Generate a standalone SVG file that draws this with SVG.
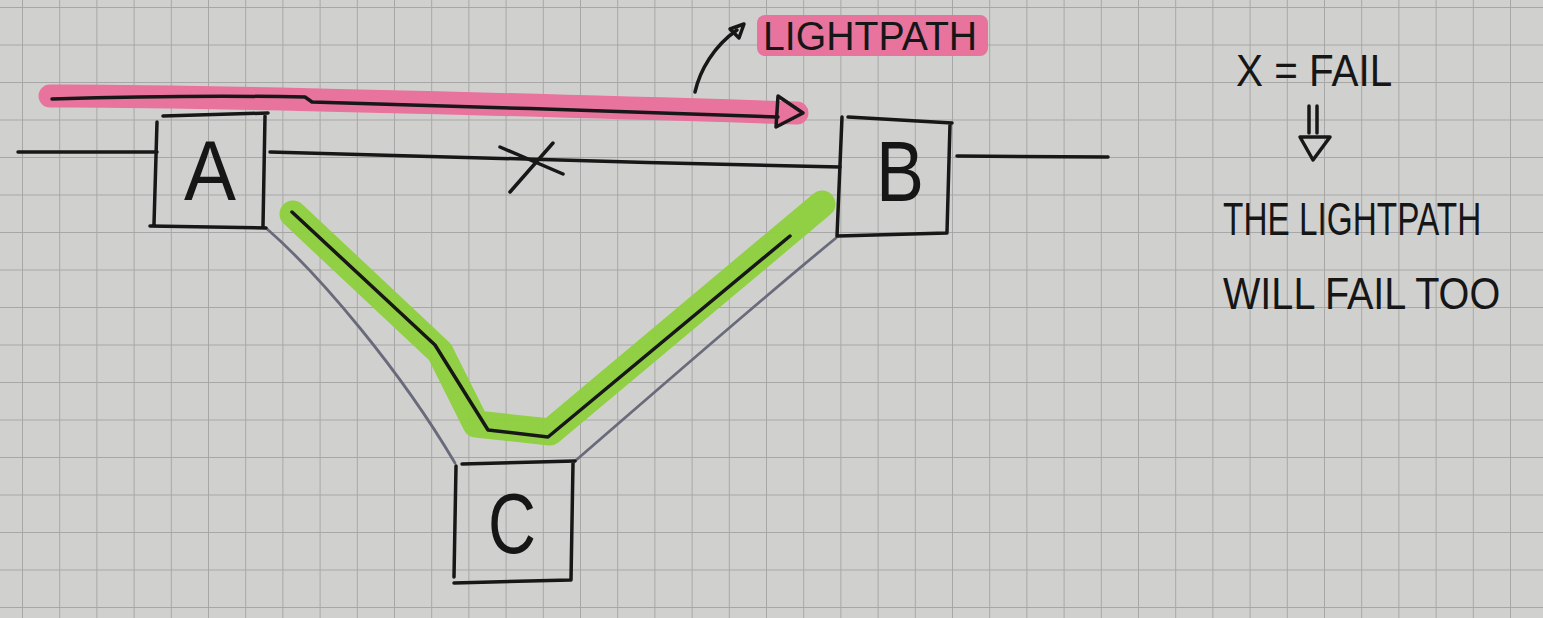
<svg xmlns="http://www.w3.org/2000/svg" width="1543" height="618" viewBox="0 0 1543 618">
<defs>
<pattern id="grid" patternUnits="userSpaceOnUse" x="22" y="7" width="37.2" height="37.5">
<path d="M0,0 L0,37.5 M0,0 L37.2,0" stroke="#a6a7a6" stroke-width="2" fill="none"/>
</pattern>
<style>
.pen{fill:none;stroke:#171717;stroke-width:3.5;stroke-linecap:round;stroke-linejoin:round}
.pencil{fill:none;stroke:#6a6b7a;stroke-width:2.8;stroke-linecap:round}
.hand{font-family:"Liberation Sans","DejaVu Sans",sans-serif;fill:#161616}
.big{font-size:86px}
.note{font-size:44px}
</style>
</defs>
<rect width="1543" height="618" fill="#d0d1cf"/>
<rect width="1543" height="618" fill="url(#grid)"/>

<g id="connectors">
<path class="pen" d="M18,152 L157,152"/>
<path class="pen" d="M270,152 C450,157 650,163 840,167"/>
<path class="pen" d="M957,156 L1108,157"/>
<path class="pencil" d="M266,228 C320,275 400,370 455,463"/>
<path class="pencil" d="M836,238 C760,300 640,405 574,462"/>
<path class="pen" d="M500,147 L563,174"/>
<path class="pen" d="M553,143 L510,192"/>
</g>

<g id="lightpath-highlight">
<path d="M50,96 C200,95 600,107 797,113" fill="none" stroke="#e8739c" stroke-width="23" stroke-linecap="round"/>
<path class="pen" d="M52,99 C150,96 250,96 305,97 L312,102 C450,106 650,112 778,117"/>
<polygon class="pen" points="778,96 803,113 776,127"/>
</g>

<g id="backup-path">
<path d="M293,214 L440,352 L476,424 L550,432 L822,204" fill="none" stroke="#8dd03c" stroke-width="27" stroke-linecap="round" stroke-linejoin="round" opacity="0.95"/>
<path class="pen" d="M292,212 L435,345 L488,430 L548,437 L790,236"/>
</g>

<g id="node-A">
<path class="pen" d="M163,116 L268,113 M157,122 L154,224 M265,116 L263,226 M150,226 L266,228"/>
<text class="hand big" x="210" y="200" text-anchor="middle" textLength="52" lengthAdjust="spacingAndGlyphs">A</text>
</g>

<g id="node-B">
<path class="pen" d="M848,117 L952,123 M842,117 L837,236 M950,124 L947,232 M838,236 L947,233"/>
<text class="hand big" x="900" y="201" text-anchor="middle" textLength="48" lengthAdjust="spacingAndGlyphs" font-size="78">B</text>
</g>

<g id="node-C">
<path class="pen" d="M462,464 L575,461 M456,466 L454,577 M573,463 L571,580 M454,583 L570,580"/>
<text class="hand big" x="512" y="553" text-anchor="middle" textLength="48" lengthAdjust="spacingAndGlyphs" font-size="74">C</text>
</g>

<g id="label-lightpath">
<rect x="757" y="15" width="231" height="41" rx="8" fill="#e8739c"/>
<path class="pen" d="M695,92 C700,70 714,46 737,30" stroke-width="3"/>
<polygon class="pen" points="730,29 744,24 739,38" stroke-width="3"/>
<text class="hand" transform="translate(763,50) scale(0.98,1)" font-size="40">LIGHTPATH</text>
</g>

<g id="note">
<text class="hand note" transform="translate(1236,86) scale(0.92,1)">X = FAIL</text>
<path class="pen" d="M1309,106 L1309,133 M1317,106 L1317,133" stroke-width="3"/>
<polygon class="pen" points="1300,137 1330,137 1313,160" stroke-width="3"/>
<text class="hand" transform="translate(1223,235) scale(0.71,1)" font-size="47">THE LIGHTPATH</text>
<text class="hand note" transform="translate(1223,309) scale(0.9,1)">WILL FAIL TOO</text>
</g>
</svg>
